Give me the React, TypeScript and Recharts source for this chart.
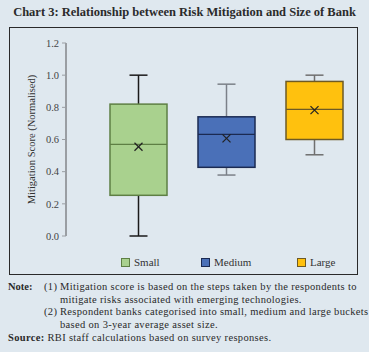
import React from 'react';
import { ComposedChart, Bar, XAxis, YAxis, Cell } from 'recharts';

const categories = ['Small', 'Medium', 'Large'];
const mins = [0.0, 0.379, 0.505];
const q1s = [0.253, 0.427, 0.6];
const medians = [0.57, 0.632, 0.787];
const q3s = [0.82, 0.741, 0.961];
const maxs = [1.0, 0.944, 1.0];
const means = [0.555, 0.607, 0.783];
const yTicks = [0, 0.2, 0.4, 0.6, 0.8, 1.0, 1.2];

const fills = ['#a9d18e', '#4a70b8', '#ffc10e'];
const borders = ['#5e7f44', '#1b2a52', '#6e5a24'];
const whiskerColors = ['#1a1a1a', '#7b8088', '#6f6f6f'];

const data = categories.map((c, i) => ({
  name: c,
  range: [mins[i], maxs[i]],
  min: mins[i],
  q1: q1s[i],
  median: medians[i],
  q3: q3s[i],
  max: maxs[i],
  mean: means[i],
  idx: i,
}));

const BoxShape = (props: any) => {
  const { x, y, width, height, payload } = props;
  const p = payload;
  const span = p.max - p.min;
  const yOf = (v: number) => y + (height * (p.max - v)) / span;
  const cx = x + width / 2;
  const i = p.idx;
  const cap = 9;
  const m = 4;
  const ym = yOf(p.mean);
  return (
    <g>
      <line x1={cx} x2={cx} y1={yOf(p.max)} y2={yOf(p.q3)} stroke={whiskerColors[i]} strokeWidth={1.5} />
      <line x1={cx} x2={cx} y1={yOf(p.q1)} y2={yOf(p.min)} stroke={whiskerColors[i]} strokeWidth={1.5} />
      <line x1={cx - cap} x2={cx + cap} y1={yOf(p.max)} y2={yOf(p.max)} stroke={whiskerColors[i]} strokeWidth={1.5} />
      <line x1={cx - cap} x2={cx + cap} y1={yOf(p.min)} y2={yOf(p.min)} stroke={whiskerColors[i]} strokeWidth={1.5} />
      <rect x={x} y={yOf(p.q3)} width={width} height={yOf(p.q1) - yOf(p.q3)} fill={fills[i]} stroke={borders[i]} strokeWidth={1.5} />
      <line x1={x} x2={x + width} y1={yOf(p.median)} y2={yOf(p.median)} stroke={borders[i]} strokeWidth={1.3} />
      <line x1={cx - m} x2={cx + m} y1={ym - m} y2={ym + m} stroke="#222" strokeWidth={1.2} />
      <line x1={cx - m} x2={cx + m} y1={ym + m} y2={ym - m} stroke="#222" strokeWidth={1.2} />
    </g>
  );
};

const YLabel = (props: any) => {
  const vb = props.viewBox || {};
  const cy = vb.y + vb.height / 2;
  const lx = 31;
  return (
    <text x={lx} y={cy} transform={`rotate(-90 ${lx} ${cy})`} textAnchor="middle" dominantBaseline="central" fontSize={10.5} fill="#333" fontFamily="'Liberation Serif', serif">
      Mitigation Score (Normalised)
    </text>
  );
};

const serif = "'Liberation Serif', 'DejaVu Serif', serif";

const lineStyle = (top: number, left: number): React.CSSProperties => ({
  position: 'absolute',
  top,
  left,
  fontSize: 10.5,
  lineHeight: '12px',
  letterSpacing: '0.33px',
  color: '#2a2a2a',
  whiteSpace: 'nowrap',
});

export default function App() {
  return (
    <div style={{ position: 'relative', width: 369, height: 352, background: '#dfe8ef', fontFamily: serif, overflow: 'hidden' }}>
      <style>{'body{margin:0}'}</style>
      <div style={{ position: 'absolute', top: 5, left: 0, width: 369, textAlign: 'center', fontWeight: 'bold', fontSize: 12.5, color: '#2b2b2b', whiteSpace: 'nowrap' }}>
        Chart 3: Relationship between Risk Mitigation and Size of Bank
      </div>
      <div style={{ position: 'absolute', left: 9, top: 27, width: 347, height: 246, border: '1.5px solid #2a2a2a' }} />
      <div style={{ position: 'absolute', left: 0, top: 0 }}>
        <ComposedChart width={369} height={352} data={data} margin={{ top: 43, right: 11, bottom: 116, left: 0 }} barSize={57}>
          <XAxis dataKey="name" hide padding={{ left: 28, right: 0 }} />
          <YAxis
            width={66}
            domain={[0, 1.2]}
            ticks={yTicks}
            interval={0}
            tickFormatter={(v: number) => v.toFixed(1)}
            tick={{ fontSize: 10.5, fill: '#444', fontFamily: serif }}
            tickSize={4}
            tickMargin={3}
            axisLine={{ stroke: '#9a9ea3', strokeWidth: 2 }}
            tickLine={{ stroke: '#9a9ea3' }}
            label={<YLabel />}
          />
          <Bar dataKey="range" shape={<BoxShape />} isAnimationActive={false}>
            {data.map((d, i) => (
              <Cell key={d.name} fill={fills[i]} />
            ))}
          </Bar>
        </ComposedChart>
      </div>
      {categories.map((c, i) => (
        <div key={c} style={{ position: 'absolute', top: 256, left: [121, 201, 297][i], display: 'flex', alignItems: 'center', fontSize: 11, color: '#333' }}>
          <span style={{ display: 'inline-block', width: 7, height: 7, background: fills[i], border: `1px solid ${borders[i]}`, marginRight: 4 }} />
          {c}
        </div>
      ))}
      <div style={{ ...lineStyle(281, 8), fontWeight: 'bold', letterSpacing: '0px' }}>Note:</div>
      <div style={lineStyle(281, 44)}>(1)</div>
      <div style={lineStyle(281, 60)}>Mitigation score is based on the steps taken by the respondents to</div>
      <div style={lineStyle(294, 60)}>mitigate risks associated with emerging technologies.</div>
      <div style={lineStyle(306, 44)}>(2)</div>
      <div style={lineStyle(306, 60)}>Respondent banks categorised into small, medium and large buckets</div>
      <div style={lineStyle(319, 60)}>based on 3-year average asset size.</div>
      <div style={lineStyle(332, 8)}><b>Source:</b> RBI staff calculations based on survey responses.</div>
    </div>
  );
}
